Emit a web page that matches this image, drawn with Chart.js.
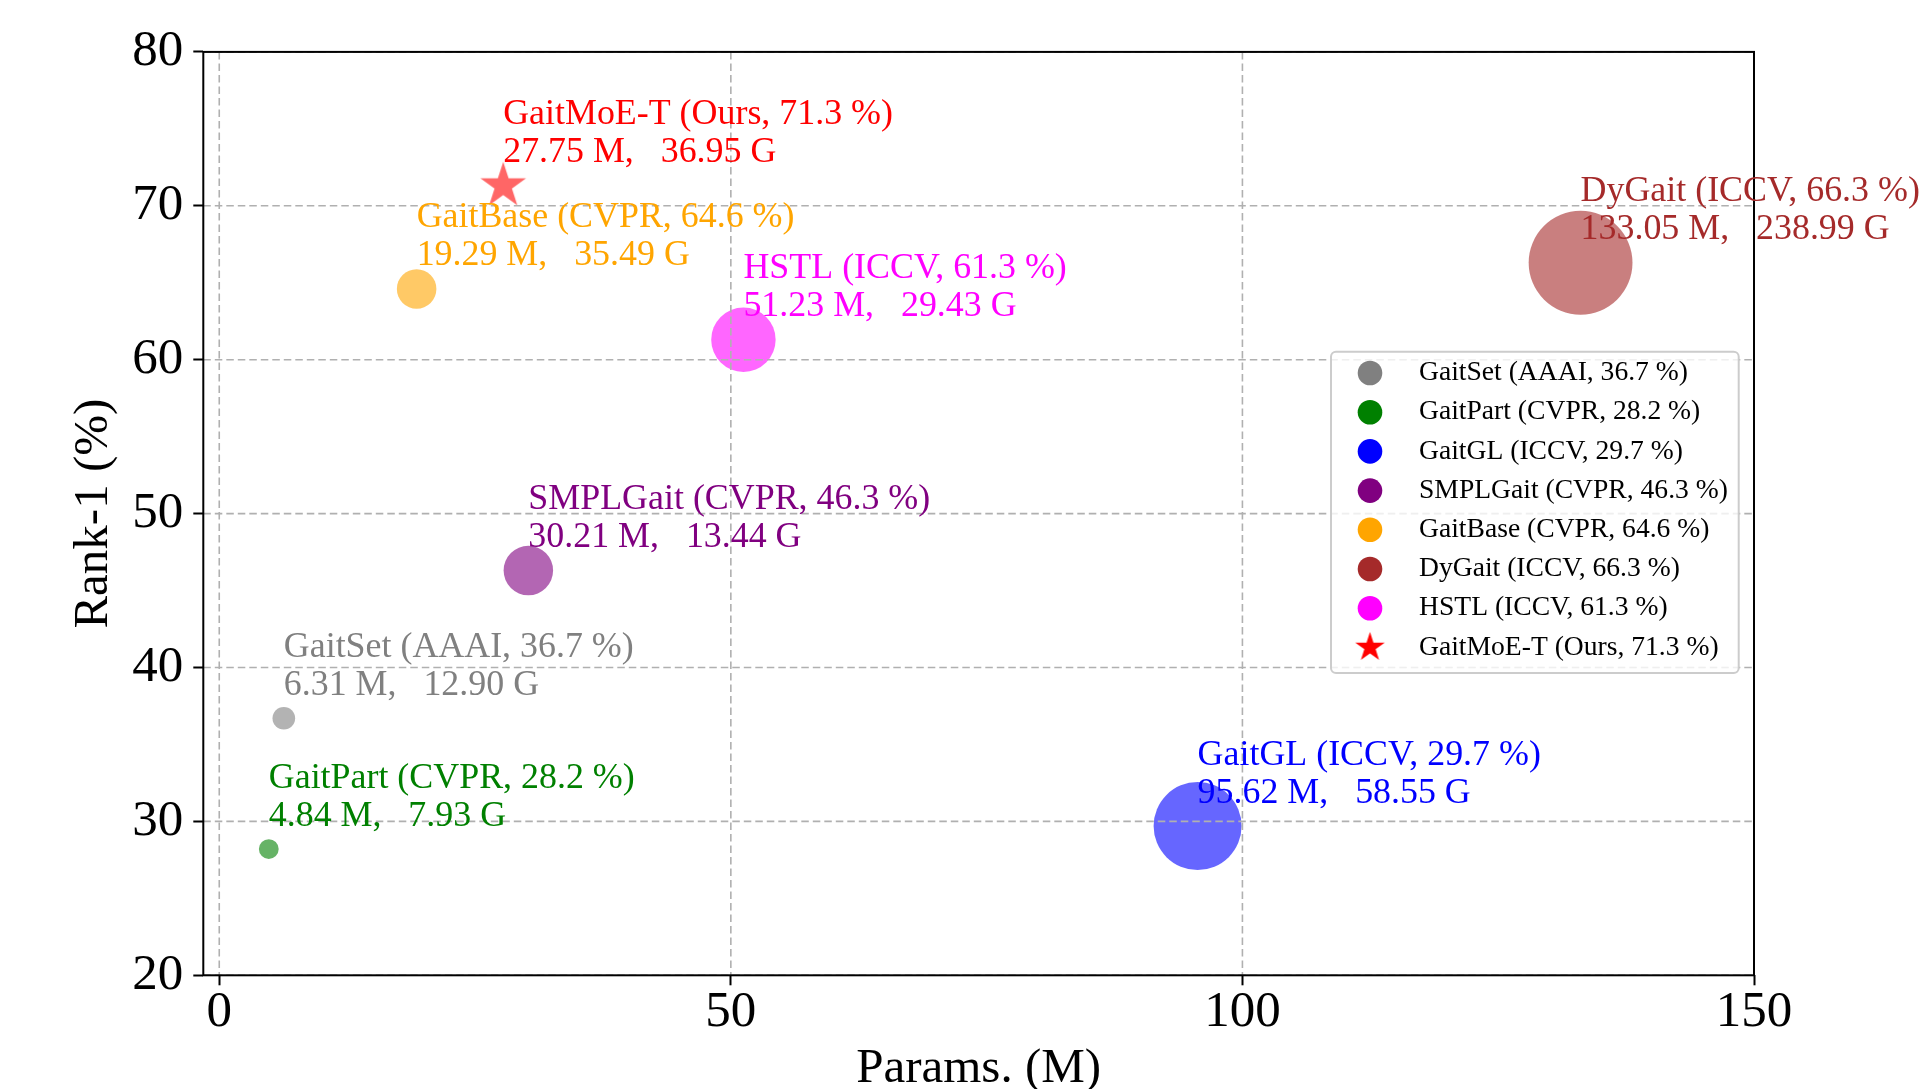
<!DOCTYPE html>
<html>
<head>
<meta charset="utf-8">
<script src="https://cdn.jsdelivr.net/npm/chart.js@4.4.1/dist/chart.umd.min.js"></script>
<style>
  html, body { margin: 0; padding: 0; overflow: hidden; background: #ffffff; }
  #wrap { width: 1923px; height: 1100px; }
</style>
</head>
<body>
<div id="wrap"><canvas id="c" width="1923" height="1100"></canvas></div>
<script>
// ---------------- data ----------------
const modelNames = ['GaitSet', 'GaitPart', 'GaitGL', 'SMPLGait', 'GaitBase', 'DyGait', 'HSTL', 'GaitMoE-T'];
const venues     = ['AAAI', 'CVPR', 'ICCV', 'CVPR', 'CVPR', 'ICCV', 'ICCV', 'Ours'];
const paramsM    = [6.31, 4.84, 95.62, 30.21, 19.29, 133.05, 51.23, 27.75];
const rank1      = [36.7, 28.2, 29.7, 46.3, 64.6, 66.3, 61.3, 71.3];
const flopsG     = [12.90, 7.93, 58.55, 13.44, 35.49, 238.99, 29.43, 36.95];
const xTicks     = [0, 50, 100, 150];
const yTicks     = [20, 30, 40, 50, 60, 70, 80];

// ---------------- styles ----------------
const baseColors = [[128,128,128],[0,128,0],[0,0,255],[128,0,128],[255,165,0],[165,42,42],[255,0,255],[255,0,0]];
const SERIF = '"Liberation Serif", "Times New Roman", serif';
const rgba = (c, a) => `rgba(${c[0]},${c[1]},${c[2]},${a})`;

function makeStar(R, color) {
  const s = Math.ceil(R * 2 + 4);
  const cv = document.createElement('canvas');
  cv.width = s; cv.height = s;
  const g = cv.getContext('2d');
  const c = s / 2, r = R * 0.381966;
  g.beginPath();
  for (let i = 0; i < 10; i++) {
    const rad = i % 2 === 0 ? R : r;
    const a = -Math.PI / 2 + i * Math.PI / 5;
    const px = c + rad * Math.cos(a), py = c + rad * Math.sin(a);
    if (i === 0) g.moveTo(px, py); else g.lineTo(px, py);
  }
  g.closePath();
  g.fillStyle = color;
  g.fill();
  return cv;
}
const starPlot = makeStar(24, 'rgba(255,0,0,0.6)');

const isStar = modelNames.map(n => n === 'GaitMoE-T');

const datasets = modelNames.map((name, i) => ({
  label: name,
  data: [{ x: paramsM[i], y: rank1[i] }],
  pointRadius: isStar[i] ? 24 : 4.5 * Math.sqrt(paramsM[i]),
  pointStyle: isStar[i] ? starPlot : 'circle',
  backgroundColor: rgba(baseColors[i], 0.6),
  pointBackgroundColor: rgba(baseColors[i], 0.6),
  pointBorderWidth: 0,
  borderWidth: 0,
  showLine: false
}));

const overlay = {
  id: 'overlay',
  afterDatasetsDraw(chart) {
    const { ctx, chartArea: a, scales: { x, y } } = chart;
    ctx.save();
    // grid (drawn above markers like matplotlib)
    ctx.strokeStyle = '#b0b0b0';
    ctx.lineWidth = 1.6;
    ctx.setLineDash([7.5, 4]);
    xTicks.forEach(v => {
      const px = x.getPixelForValue(v);
      ctx.beginPath(); ctx.moveTo(px, a.top); ctx.lineTo(px, a.bottom); ctx.stroke();
    });
    yTicks.forEach(v => {
      const py = y.getPixelForValue(v);
      ctx.beginPath(); ctx.moveTo(a.left, py); ctx.lineTo(a.right, py); ctx.stroke();
    });
    ctx.setLineDash([]);
    // spines
    ctx.strokeStyle = '#000';
    ctx.lineWidth = 2;
    ctx.strokeRect(a.left, a.top, a.right - a.left, a.bottom - a.top);

    // annotations
    ctx.font = `35.9px ${SERIF}`;
    ctx.textAlign = 'left';
    ctx.textBaseline = 'alphabetic';
    modelNames.forEach((name, i) => {
      const pt = chart.getDatasetMeta(i).data[0];
      ctx.fillStyle = rgba(baseColors[i], 1);
      const l1 = `${name} (${venues[i]}, ${rank1[i].toFixed(1)} %)`;
      const l2 = `${paramsM[i].toFixed(2)} M,   ${flopsG[i].toFixed(2)} G`;
      ctx.fillText(l1, pt.x, pt.y - 23.5 - 38);
      ctx.fillText(l2, pt.x, pt.y - 23.5);
    });

    // legend
    const lx = 1331, ly = 351.7, lw = 407.7, lh = 321.3;
    ctx.beginPath();
    ctx.roundRect(lx, ly, lw, lh, 5);
    ctx.fillStyle = 'rgba(255,255,255,0.8)';
    ctx.fill();
    ctx.strokeStyle = '#cccccc';
    ctx.lineWidth = 2;
    ctx.stroke();
    ctx.font = `27.6px ${SERIF}`;
    ctx.textBaseline = 'middle';
    modelNames.forEach((name, i) => {
      const cy = 373 + i * 39.2;
      const cx = 1370;
      ctx.fillStyle = rgba(baseColors[i], 1);
      if (isStar[i]) {
        const st = makeStar(15.5, rgba(baseColors[i], 1));
        ctx.drawImage(st, cx - st.width / 2, cy - st.height / 2);
      } else {
        ctx.beginPath(); ctx.arc(cx, cy, 12.3, 0, Math.PI * 2); ctx.fill();
      }
      ctx.fillStyle = '#000';
      ctx.fillText(`${name} (${venues[i]}, ${rank1[i].toFixed(1)} %)`, 1419, cy);
    });
    ctx.restore();
  }
};

const tickGrid = { drawOnChartArea: false, drawTicks: true, tickLength: 10, tickColor: '#000', tickWidth: 2 };

new Chart(document.getElementById('c'), {
  type: 'scatter',
  data: { datasets },
  options: {
    responsive: false,
    animation: false,
    events: [],
    layout: { padding: { top: 50.7, right: 169, left: 0, bottom: 0 } },
    plugins: { legend: { display: false }, tooltip: { enabled: false } },
    scales: {
      x: {
        type: 'linear', min: -1.56, max: 150,
        afterBuildTicks: s => { s.ticks = xTicks.map(v => ({ value: v })); },
        afterFit: s => { s.height = 1100 - 975.3; },
        grid: tickGrid,
        border: { display: false },
        ticks: { font: { family: SERIF, size: 51, lineHeight: 1 }, color: '#000', padding: 2, maxRotation: 0, autoSkip: false },
        title: { display: true, text: 'Params. (M)', color: '#000', font: { family: SERIF, size: 49, lineHeight: 1.2 }, padding: { top: 0, bottom: 1.5 } }
      },
      y: {
        type: 'linear', min: 20, max: 80,
        afterBuildTicks: s => { s.ticks = yTicks.map(v => ({ value: v })); },
        afterFit: s => { s.width = 203.3; },
        grid: tickGrid,
        border: { display: false },
        ticks: { font: { family: SERIF, size: 51, lineHeight: 1.2 }, color: '#000', padding: 10, autoSkip: false },
        title: { display: true, text: 'Rank-1 (%)', color: '#000', font: { family: SERIF, size: 49, lineHeight: 1.2 }, padding: { top: 65, bottom: 0 } }
      }
    }
  },
  plugins: [overlay]
});
</script>
</body>
</html>
